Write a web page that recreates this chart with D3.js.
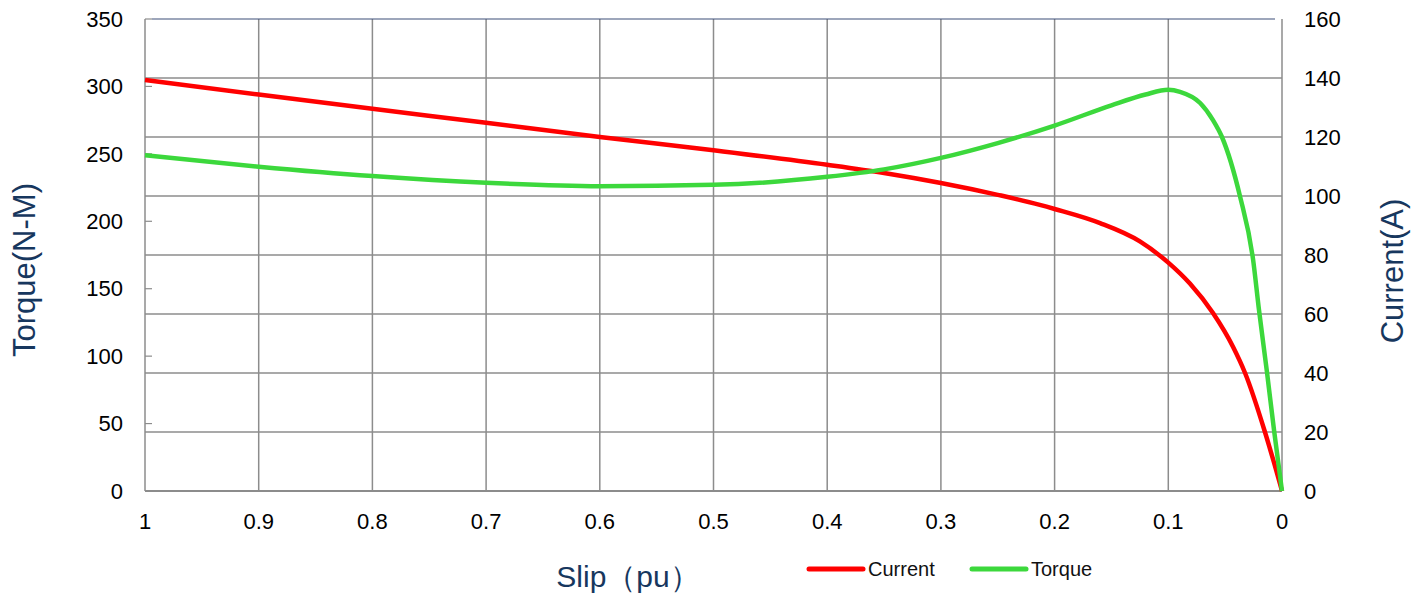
<!DOCTYPE html>
<html>
<head>
<meta charset="utf-8">
<script src="https://cdn.jsdelivr.net/npm/d3@7"></script>
<style>
body { margin: 0; background: #fff; }
text { font-family: "Liberation Sans", Arial, sans-serif; }
</style>
</head>
<body>
<svg id="svg" width="1427" height="598"></svg>
<script>
// slip values (pu)
var slip = [1, 0.9, 0.8, 0.7, 0.6, 0.5, 0.4, 0.35, 0.3, 0.25, 0.213, 0.2, 0.16, 0.125, 0.1, 0.081, 0.0607, 0.043, 0.0325, 0.015, 0.007, 0];
var current = [139.3, 134.4, 129.6, 124.8, 120, 115.5, 110.6, 107.8, 104.4, 100.4, 97, 95.6, 90.8, 84.6, 77.4, 70.3, 60.3, 48.8, 40, 20, 9.6, 0];
var torqueSlip = [1, 0.9, 0.8, 0.7, 0.6, 0.5, 0.4, 0.35, 0.3, 0.25, 0.2, 0.15, 0.12, 0.1, 0.0897, 0.072, 0.0607, 0.0528, 0.037, 0.0255, 0.0202, 0.0132, 0.007, 0];
var torque = [249, 240.5, 233.5, 228.5, 226, 227, 233, 238.5, 247, 258, 271, 286, 294, 297.5, 296, 287.7, 275, 262.5, 218.7, 172, 134, 88, 45, 0];

var xTicks = [1, 0.9, 0.8, 0.7, 0.6, 0.5, 0.4, 0.3, 0.2, 0.1, 0];
var leftTicks = [0, 50, 100, 150, 200, 250, 300, 350];
var rightTicks = [0, 20, 40, 60, 80, 100, 120, 140, 160];

var svg = d3.select("#svg");
var L = 145, R = 1282, T = 19, B = 491;

var x = d3.scaleLinear().domain([1, 0]).range([L, R]);
var yL = d3.scaleLinear().domain([0, 350]).range([B, T]);
var yR = d3.scaleLinear().domain([0, 160]).range([B, T]);

// grid
svg.append("g").selectAll("line")
    .data(rightTicks.slice(1, -1))
    .enter().append("line")
    .attr("x1", L).attr("x2", R)
    .attr("y1", function(d){ return yR(d); })
    .attr("y2", function(d){ return yR(d); })
    .attr("stroke", "#8c8c8c").attr("stroke-width", 1.5);

svg.append("g").selectAll("line")
    .data(xTicks)
    .enter().append("line")
    .attr("x1", function(d){ return x(d); })
    .attr("x2", function(d){ return x(d); })
    .attr("y1", T).attr("y2", B)
    .attr("stroke", "#8c8c8c").attr("stroke-width", 1.5);

// bottom axis line and top border
svg.append("line").attr("x1", L).attr("x2", R).attr("y1", B).attr("y2", B)
    .attr("stroke", "#8c8c8c").attr("stroke-width", 2);
svg.append("line").attr("x1", L + 7).attr("x2", R - 7).attr("y1", T).attr("y2", T)
    .attr("stroke", "#3d4f78").attr("stroke-width", 1.2);

// left axis small ticks
svg.append("g").selectAll("line")
    .data(leftTicks)
    .enter().append("line")
    .attr("x1", L).attr("x2", L + 7)
    .attr("y1", function(d){ return yL(d); })
    .attr("y2", function(d){ return yL(d); })
    .attr("stroke", "#8c8c8c").attr("stroke-width", 1.2);

// tick labels
svg.append("g").selectAll("text")
    .data(leftTicks)
    .enter().append("text")
    .attr("x", 123)
    .attr("y", function(d){ return yL(d); })
    .attr("dy", "0.35em")
    .attr("text-anchor", "end")
    .attr("font-size", "22px")
    .attr("fill", "#000")
    .text(function(d){ return d; });

svg.append("g").selectAll("text")
    .data(rightTicks)
    .enter().append("text")
    .attr("x", 1304)
    .attr("y", function(d){ return yR(d); })
    .attr("dy", "0.35em")
    .attr("font-size", "22px")
    .attr("fill", "#000")
    .text(function(d){ return d; });

svg.append("g").selectAll("text")
    .data(xTicks)
    .enter().append("text")
    .attr("x", function(d){ return x(d); })
    .attr("y", 529)
    .attr("text-anchor", "middle")
    .attr("font-size", "22px")
    .attr("fill", "#000")
    .text(function(d){ return d; });

// lines
var curLine = d3.line()
    .x(function(d, i){ return x(slip[i]); })
    .y(function(d){ return yR(d); })
    .curve(d3.curveMonotoneX);
var torLine = d3.line()
    .x(function(d, i){ return x(torqueSlip[i]); })
    .y(function(d){ return yL(d); })
    .curve(d3.curveMonotoneX);

svg.append("path").attr("d", curLine(current))
    .attr("fill", "none").attr("stroke", "#ff0000").attr("stroke-width", 4.5);
svg.append("path").attr("d", torLine(torque))
    .attr("fill", "none").attr("stroke", "#3cd83c").attr("stroke-width", 4.5);

// axis titles
svg.append("text")
    .attr("transform", "translate(35,270) rotate(-90)")
    .attr("text-anchor", "middle")
    .attr("font-size", "31px")
    .attr("fill", "#17375e")
    .text("Torque(N-M)");
svg.append("text")
    .attr("transform", "translate(1403,271) rotate(-90)")
    .attr("text-anchor", "middle")
    .attr("font-size", "31px")
    .attr("fill", "#17375e")
    .text("Current(A)");
svg.append("text")
    .attr("x", 628).attr("y", 587)
    .attr("text-anchor", "middle")
    .attr("font-size", "30px")
    .attr("fill", "#17375e")
    .text("Slip（pu）");

// legend
var legend = [{name: "Current", color: "#ff0000", x: 809}, {name: "Torque", color: "#3cd83c", x: 972}];
var lg = svg.append("g").selectAll("g").data(legend).enter().append("g");
lg.append("line")
    .attr("x1", function(d){ return d.x; })
    .attr("x2", function(d){ return d.x + 54; })
    .attr("y1", 569).attr("y2", 569)
    .attr("stroke", function(d){ return d.color; })
    .attr("stroke-width", 5).attr("stroke-linecap", "round");
lg.append("text")
    .attr("x", function(d){ return d.x + 59; })
    .attr("y", 569).attr("dy", "0.35em")
    .attr("font-size", "20px")
    .attr("fill", "#111")
    .text(function(d){ return d.name; });
</script>
</body>
</html>
